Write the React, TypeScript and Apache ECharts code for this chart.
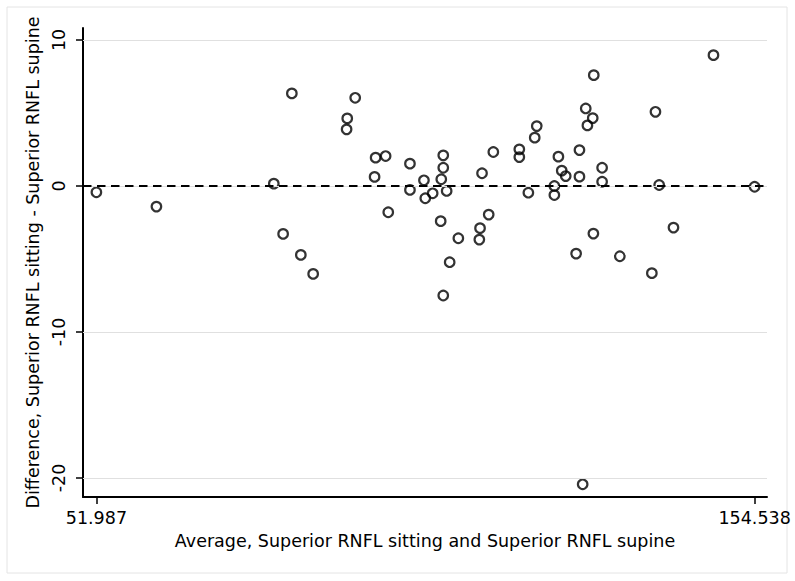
import React, { useEffect, useRef } from "react";
import * as echarts from "echarts";

const avgValues: number[] = [
  51.987, 61.34, 79.63, 82.44, 81.08, 83.84, 85.76, 91.07, 90.97, 92.31,
  95.49, 97.05, 95.33, 97.46, 100.84, 100.84, 103.02, 103.23, 104.38, 106.03,
  106.03, 105.72, 106.56, 105.63, 108.38, 107.03, 106.03, 112.07, 113.83, 111.76,
  111.65, 113.11, 117.88, 117.88, 119.29, 120.28, 120.6, 123.34, 123.34, 123.97,
  124.49, 125.11, 126.73, 127.25, 127.25, 128.23, 129.32, 128.49, 129.48, 129.42,
  130.78, 130.78, 133.54, 139.09, 139.67, 138.53, 141.9, 148.13, 154.538, 127.75,
];
const diffValues: number[] = [
  -0.43, -1.41, 0.16, 6.34, -3.28, -4.72, -6.02, 4.63, 3.88, 6.04,
  1.94, 2.05, 0.62, -1.8, 1.53, -0.27, 0.39, -0.84, -0.5, 2.1,
  1.25, 0.46, -0.34, -2.41, -3.58, -5.22, -7.5, 0.87, 2.33, -2.89,
  -3.67, -1.96, 2.51, 1.98, -0.46, 3.31, 4.1, 0.0, -0.62, 2.01,
  1.05, 0.68, -4.63, 2.46, 0.64, 5.31, 4.65, 4.15, 7.59, -3.26,
  1.25, 0.29, -4.81, 5.08, 0.07, -5.97, -2.85, 8.96, -0.05, -20.43,
];
const xTickValues: number[] = [51.987, 154.538];
const yTickValues: number[] = [-20, -10, 0, 10];
const meanDiff = 0;

const FONT = "DejaVu Sans";

export default function App() {
  const ref = useRef<HTMLDivElement>(null);
  useEffect(() => {
    if (!ref.current) return;
    const chart = echarts.init(ref.current, null, { renderer: "svg" });
    const points = avgValues.map((x, i) => [x, diffValues[i]]);
    chart.setOption({
      animation: false,
      backgroundColor: "#ffffff",
      textStyle: { fontFamily: FONT },
      graphic: [
        {
          type: "rect",
          shape: { x: 7, y: 7, width: 780, height: 566 },
          style: { fill: "none", stroke: "#e4e4e4", lineWidth: 1 },
          silent: true,
          z: 0,
        },
      ],
      grid: { left: 83, right: 28, top: 28, bottom: 84 },
      xAxis: {
        type: "value",
        min: 49.9,
        max: 156.47,
        name: "Average, Superior RNFL sitting and Superior RNFL supine",
        nameLocation: "middle",
        nameGap: 32,
        nameTextStyle: { fontFamily: FONT, fontSize: 17.5, color: "#000" },
        axisLine: { show: true, onZero: false, lineStyle: { color: "#000", width: 2 } },
        axisTick: { show: true, length: 7, customValues: xTickValues, lineStyle: { color: "#000", width: 1.5 } },
        axisLabel: {
          customValues: xTickValues,
          formatter: (v: number) => v.toFixed(3),
          fontFamily: FONT,
          fontSize: 17.5,
          color: "#000",
          margin: 12,
        },
        splitLine: { show: false },
      },
      yAxis: {
        type: "value",
        min: -21.3,
        max: 10.82,
        name: "Difference, Superior RNFL sitting - Superior RNFL supine",
        nameLocation: "middle",
        nameGap: 36,
        nameRotate: 90,
        nameTextStyle: { fontFamily: FONT, fontSize: 17.5, color: "#000" },
        axisLine: { show: true, onZero: false, lineStyle: { color: "#000", width: 2 } },
        axisTick: { show: true, length: 7, customValues: yTickValues, lineStyle: { color: "#000", width: 1.5 } },
        axisLabel: {
          customValues: yTickValues,
          rotate: 90,
          fontFamily: FONT,
          fontSize: 17.5,
          color: "#000",
          margin: 15,
        },
        splitLine: { show: false },
      },
      series: [
        {
          type: "scatter",
          data: [],
          z: 1,
          silent: true,
          markLine: {
            silent: true,
            symbol: "none",
            label: { show: false },
            lineStyle: { color: "#e0e0e0", width: 1.2, type: "solid" },
            data: yTickValues.map((v) => ({ yAxis: v })),
          },
        },
        {
          type: "scatter",
          data: [],
          z: 2,
          silent: true,
          markLine: {
            silent: true,
            symbol: "none",
            label: { show: false },
            lineStyle: { color: "#000", width: 2.2, type: [8.5, 5.5] },
            data: [{ yAxis: meanDiff }],
          },
        },
        {
          type: "scatter",
          z: 3,
          symbol: "circle",
          symbolSize: 9.5,
          data: points,
          itemStyle: { color: "rgba(0,0,0,0)", borderColor: "#000", borderWidth: 2.2 },
        },
      ],
    });
    return () => chart.dispose();
  }, []);
  return (
    <div
      ref={ref}
      style={{ position: "absolute", left: 0, top: 0, width: 795, height: 581 }}
    />
  );
}
